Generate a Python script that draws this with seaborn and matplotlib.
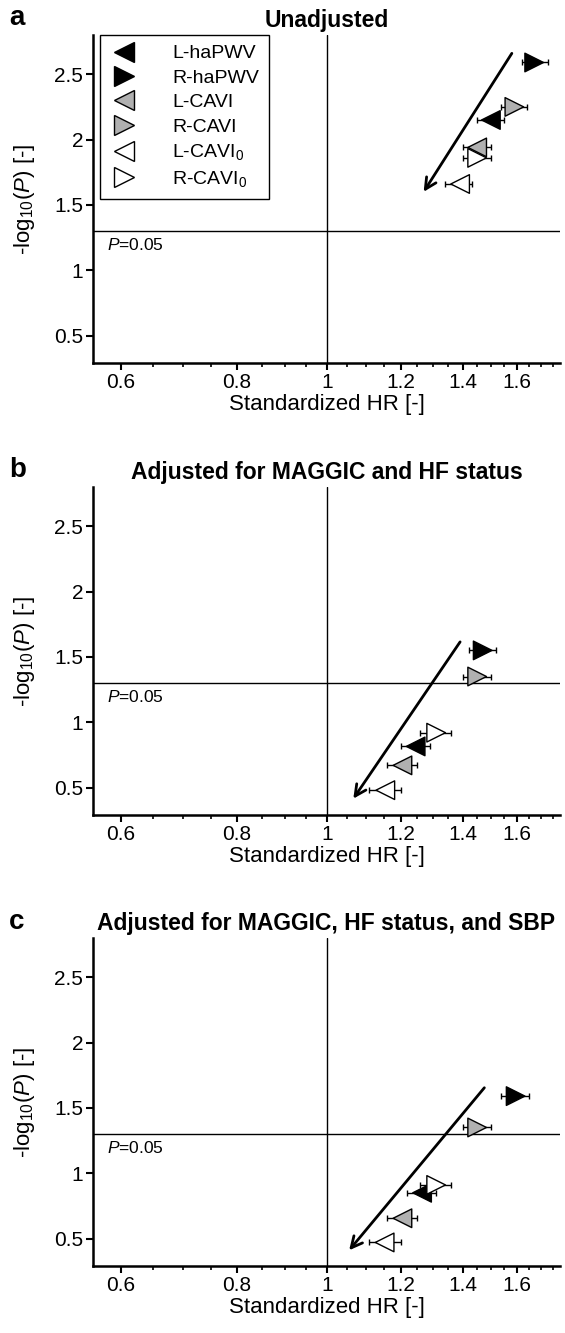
import numpy as np
import pandas as pd
import matplotlib
matplotlib.use('Agg')
import matplotlib.pyplot as plt
import seaborn as sns
from matplotlib.ticker import FixedLocator, FixedFormatter, NullFormatter

# stiffness indices (legend order)
indices = ['L-haPWV', 'R-haPWV', 'L-CAVI', 'R-CAVI', 'L-CAVI$_0$', 'R-CAVI$_0$']

# panel a - unadjusted
hr_a = [1.50, 1.67, 1.45, 1.59, 1.39, 1.45]
hr_lo_a = [1.45, 1.62, 1.40, 1.54, 1.34, 1.40]
hr_hi_a = [1.55, 1.73, 1.50, 1.64, 1.43, 1.50]
logp_a = [2.15, 2.59, 1.94, 2.25, 1.66, 1.86]

# panel b - adjusted for MAGGIC and HF status
hr_b = [1.245, 1.47, 1.205, 1.45, 1.155, 1.31]
hr_lo_b = [1.20, 1.42, 1.16, 1.40, 1.11, 1.26]
hr_hi_b = [1.29, 1.52, 1.25, 1.50, 1.20, 1.36]
logp_b = [0.815, 1.55, 0.67, 1.35, 0.48, 0.92]

# panel c - adjusted for MAGGIC, HF status and SBP
hr_c = [1.265, 1.595, 1.205, 1.45, 1.153, 1.31]
hr_lo_c = [1.22, 1.54, 1.16, 1.40, 1.11, 1.26]
hr_hi_c = [1.31, 1.65, 1.25, 1.50, 1.20, 1.36]
logp_c = [0.85, 1.59, 0.655, 1.35, 0.47, 0.91]

# trend arrows (start, end) in (HR, -log10 P)
arrow_a = [(1.58, 2.66), (1.27, 1.60)]
arrow_b = [(1.39, 1.615), (1.067, 0.415)]
arrow_c = [(1.476, 1.654), (1.056, 0.41)]

titles = ['Unadjusted', 'Adjusted for MAGGIC and HF status',
          'Adjusted for MAGGIC, HF status, and SBP']
letters = ['a', 'b', 'c']

x_major = [0.6, 0.8, 1.0, 1.2, 1.4, 1.6]
x_major_labels = ['0.6', '0.8', '1', '1.2', '1.4', '1.6']
x_minor = [0.65, 0.7, 0.75, 0.85, 0.9, 0.95, 1.05, 1.1, 1.15, 1.25, 1.3,
           1.35, 1.45, 1.5, 1.55, 1.65, 1.7, 1.75]
y_major = [0.5, 1, 1.5, 2, 2.5]
y_major_labels = ['0.5', '1', '1.5', '2', '2.5']

fills = dict(zip(indices, ['black', 'black', '#b0b0b0', '#b0b0b0', 'white', 'white']))
marks = dict(zip(indices, ['<', '>', '<', '>', '<', '>']))

sns.set_style('ticks')
plt.rcParams['font.family'] = ['Liberation Sans', 'DejaVu Sans']
plt.rcParams['mathtext.fontset'] = 'custom'
plt.rcParams['mathtext.rm'] = 'Liberation Sans'
plt.rcParams['mathtext.it'] = 'Liberation Sans:italic'
plt.rcParams['mathtext.bf'] = 'Liberation Sans:bold'
for key in ['text.color', 'axes.labelcolor', 'xtick.color', 'ytick.color',
            'xtick.labelcolor', 'ytick.labelcolor', 'axes.edgecolor', 'axes.titlecolor']:
    plt.rcParams[key] = 'black'

fig = plt.figure(figsize=(5.65, 13.33), dpi=100)

panels = [
    (hr_a, hr_lo_a, hr_hi_a, logp_a, arrow_a),
    (hr_b, hr_lo_b, hr_hi_b, logp_b, arrow_b),
    (hr_c, hr_lo_c, hr_hi_c, logp_c, arrow_c),
]
bottoms = [0.7277, 0.3886, 0.0503]
letter_y = [0.9865, 0.6474, 0.3083]

for i, (hr, lo, hi, logp, arrow) in enumerate(panels):
    ax = fig.add_axes([0.1646, bottoms[i], 0.8265, 0.246])
    df = pd.DataFrame({'index': indices, 'hr': hr, 'lo': lo, 'hi': hi, 'logp': logp})

    ax.set_xscale('log')
    ax.axvline(1, color='black', lw=1, zorder=1)
    ax.axhline(-np.log10(0.05), color='black', lw=1, zorder=1)

    ax.errorbar(df['hr'], df['logp'],
                xerr=[df['hr'] - df['lo'], df['hi'] - df['hr']],
                fmt='none', ecolor='black', elinewidth=1, capsize=2.5,
                capthick=1, zorder=2)
    sns.scatterplot(data=df, x='hr', y='logp', hue='index', style='index',
                    palette=fills, markers=marks, s=180, edgecolor='black',
                    linewidth=1, ax=ax, legend=(i == 0), zorder=3)

    ax.annotate('', xy=arrow[1], xytext=arrow[0],
                arrowprops=dict(arrowstyle='->,head_length=0.8,head_width=0.4',
                                lw=2, color='black', shrinkA=0, shrinkB=0))

    ax.text(0.03, -np.log10(0.05) - 0.05, '$P$=0.05', transform=ax.get_yaxis_transform(),
            va='top', ha='left', fontsize=12.5, color='black')

    ax.set_xlim(0.56, 1.78)
    ax.set_ylim(0.29, 2.8)
    ax.xaxis.set_major_locator(FixedLocator(x_major))
    ax.xaxis.set_major_formatter(FixedFormatter(x_major_labels))
    ax.xaxis.set_minor_locator(FixedLocator(x_minor))
    ax.xaxis.set_minor_formatter(NullFormatter())
    ax.set_yticks(y_major)
    ax.set_yticklabels(y_major_labels)
    ax.tick_params(axis='both', which='major', labelsize=15, length=5, width=1.5,
                   color='black', labelcolor='black', pad=2)
    ax.tick_params(axis='x', which='minor', length=3, width=1.2, color='black')

    sns.despine(ax=ax)
    for side in ['left', 'bottom']:
        ax.spines[side].set_linewidth(1.8)
        ax.spines[side].set_color('black')

    ax.set_xlabel('Standardized HR [-]', fontsize=16, labelpad=2, color='black')
    ax.set_ylabel('-log$_{10}$($P$) [-]', fontsize=16, color='black')
    ax.yaxis.set_label_coords(-0.12, 0.5)
    ax.set_title(titles[i], fontsize=16.5, fontweight='bold', pad=6, color='black')
    fig.text(0.016, letter_y[i], letters[i], fontsize=20, fontweight='bold',
             va='center', color='black')

    if i == 0:
        old = ax.get_legend()
        handles = old.legend_handles
        labels = [t.get_text() for t in old.get_texts()]
        for h in handles:
            h.set_markersize(14)
            h.set_markeredgecolor('black')
            h.set_markeredgewidth(1)
        leg = ax.legend(handles, labels, loc='upper left', bbox_to_anchor=(0.015, 1.0),
                        borderaxespad=0, fontsize=14, frameon=True, fancybox=False,
                        framealpha=1, borderpad=0.5, handlelength=1.5,
                        handletextpad=1.7, labelspacing=0.35, labelcolor='black')
        leg.get_frame().set_edgecolor('black')
        leg.get_frame().set_linewidth(1)

fig.savefig('out.png', dpi=100)
